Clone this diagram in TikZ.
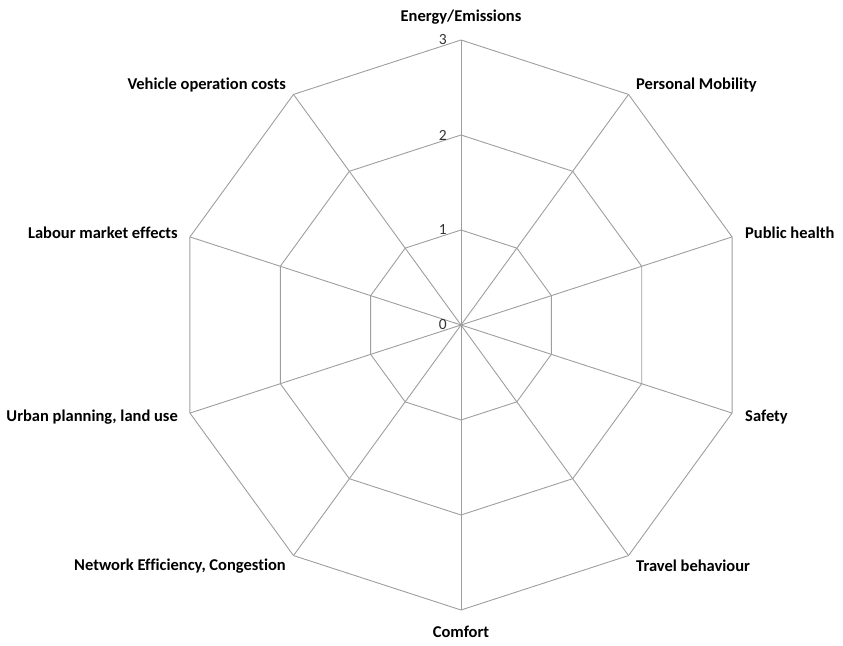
\documentclass[tikz,border=0pt]{standalone}
\usepackage{fontspec}
\setmainfont{Carlito}[Ligatures={NoCommon,TeX}]
\begin{document}
\begin{tikzpicture}[x=1pt,y=1pt,
  grid/.style={draw=black!38, line width=0.9pt},
  lab/.style={font=\fontsize{16.5}{18}\selectfont\bfseries, text=black, inner sep=0pt},
  tick/.style={font=\fontsize{15.5}{18}\selectfont, text=black!80, inner sep=0pt, anchor=east}]
\useasboundingbox (0,0) rectangle (843,645);
\clip (0,0) rectangle (843,645);
\coordinate (c) at (461,320);
\begin{scope}[shift={(461,320)}]
  \foreach \r in {95,190,285}{
    \draw[grid] (90:\r) \foreach \i in {1,...,9}{ -- ({90-36*\i}:\r)} -- cycle;
  }
  \foreach \i in {0,...,9}{
    \coordinate (v\i) at ({90-36*\i}:285);
    \draw[grid] (c) -- (v\i);
  }
\end{scope}
\node[tick] (t3) at (447,605) {3};
\node[tick] (t2) at (447,510) {2};
\node[tick] (t1) at (447,415) {1};
\node[tick] (t0) at (447,320) {0};
\node[lab] (l0) at (461,628) {Energy/Emissions};
\node[lab, anchor=west] (l1) at (636,560) {Personal Mobility};
\node[lab, anchor=west] (l2) at (745,412) {Public health};
\node[lab, anchor=west] (l3) at (745,228) {Safety};
\node[lab, anchor=west] (l4) at (636,79) {Travel behaviour};
\node[lab] (l5) at (461,13) {Comfort};
\node[lab, anchor=east] (l6) at (286,79) {Network Efficiency, Congestion};
\node[lab, anchor=east] (l7) at (178,228) {Urban planning, land use};
\node[lab, anchor=east] (l8) at (178,412) {Labour market effects};
\node[lab, anchor=east] (l9) at (286,560) {Vehicle operation costs};
\end{tikzpicture}
\end{document}
